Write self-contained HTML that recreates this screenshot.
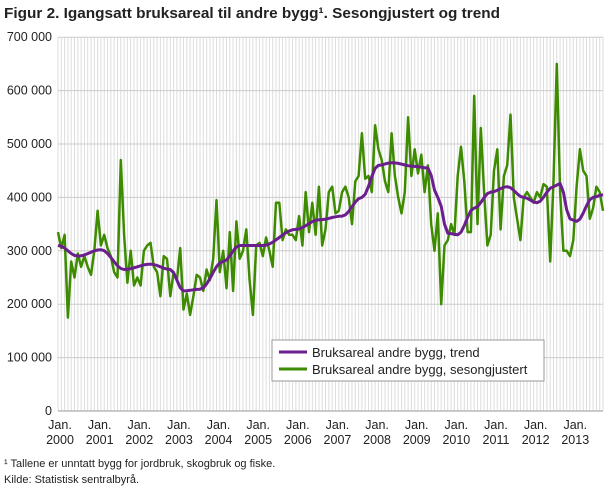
<!DOCTYPE html>
<html><head><meta charset="utf-8"><style>
body{margin:0;background:#fff;font-family:"Liberation Sans","DejaVu Sans",sans-serif;}
</style></head><body>
<svg id="s" width="610" height="488" xmlns="http://www.w3.org/2000/svg" font-family="Liberation Sans, DejaVu Sans, sans-serif">
<text x="4" y="18" font-size="15" font-weight="bold" fill="#222" textLength="496" lengthAdjust="spacingAndGlyphs">Figur 2. Igangsatt bruksareal til andre bygg¹. Sesongjustert og trend</text>
<g id="grid"></g>
<g id="yl" font-size="12.5" fill="#222" text-anchor="end"></g>
<g id="xl" font-size="12.5" fill="#222" text-anchor="middle"></g>
<polyline id="sea" fill="none" stroke="#3d8b00" stroke-width="2.5" stroke-linejoin="round"/>
<polyline id="tr" fill="none" stroke="#6b1e8e" stroke-width="3" stroke-linejoin="round"/>
<rect x="272" y="340" width="272" height="41" fill="#fff" stroke="#999"/>
<line x1="279" y1="352" x2="307" y2="352" stroke="#6b1e8e" stroke-width="3"/>
<line x1="279" y1="369" x2="307" y2="369" stroke="#3d8b00" stroke-width="3"/>
<text x="312" y="357" font-size="13" fill="#222">Bruksareal andre bygg, trend</text>
<text x="312" y="374" font-size="13" fill="#222">Bruksareal andre bygg, sesongjustert</text>
<text x="4" y="467" font-size="11" fill="#222">¹ Tallene er unntatt bygg for jordbruk, skogbruk og fiske.</text>
<text x="4" y="483" font-size="11" fill="#222">Kilde: Statistisk sentralbyrå.</text>
</svg>
<script>
var X0=58,X1=603,Y0=411,H=53.4,N=166,st=(X1-X0)/(N-1);
function y(v){return Y0-v/100*H;}
var g='';
for(var i=0;i<N;i++){var x=X0+i*st;g+='<line x1="'+x+'" y1="37" x2="'+x+'" y2="411" stroke="#ddd" stroke-width="1"/>';}
for(var k=0;k<=7;k++){g+='<line x1="58" y1="'+y(k*100)+'" x2="603" y2="'+y(k*100)+'" stroke="#ccc"/>';}
g+='<line x1="58" y1="411" x2="603" y2="411" stroke="#999"/>';
document.getElementById('grid').innerHTML=g;
var yl='';for(var k=0;k<=7;k++){yl+='<text x="52" y="'+(y(k*100)+4)+'">'+(k?k+'00 000':'0')+'</text>';}
document.getElementById('yl').innerHTML=yl;
var xl='';for(var yr=0;yr<=13;yr++){var x=X0+yr*12*st+2;xl+='<text x="'+x+'" y="429">Jan.</text><text x="'+x+'" y="444">'+(2000+yr)+'</text>';}
document.getElementById('xl').innerHTML=xl;
var s=[335,305,330,175,280,250,295,270,290,270,255,300,
375,310,330,305,290,260,250,470,330,240,300,235,
250,235,300,310,315,270,260,215,290,285,215,260,
245,305,190,220,180,215,255,250,225,265,245,285,
395,260,300,230,335,225,355,285,300,340,245,180,
310,315,290,325,300,270,390,390,320,340,330,330,
320,365,310,410,335,390,330,420,310,340,410,420,
370,375,410,420,400,350,430,440,520,435,440,410,
535,490,470,430,410,520,440,400,370,410,550,440,
490,445,480,410,460,350,300,370,200,310,320,350,
330,440,495,430,335,335,590,350,530,410,310,330,
450,490,340,440,460,555,400,360,320,400,410,400,
390,410,400,425,420,280,430,650,410,300,300,290,
320,420,490,450,440,360,380,420,410,375];
var t=[[0,310],[6,290],[13,302],[20,265],[28,275],[34,265],[38,225],[43,228],[50,280],[55,310],[62,310],[72,340],[79,358],[86,365],[92,400],[97,460],[101,465],[108,458],[112,455],[115,400],[118,333],[121,330],[126,380],[131,410],[136,420],[141,400],[145,390],[150,420],[152,426],[155,360],[157,355],[162,400],[165,405]];
var p=[];for(var i=0;i<s.length;i++)p.push((X0+i*st).toFixed(1)+','+y(s[i]).toFixed(1));
document.getElementById('sea').setAttribute('points',p.join(' '));
var q=[];for(var i=0;i<N;i++){for(var j=0;j<t.length-1;j++){if(i>=t[j][0]&&i<=t[j+1][0]){var f=(i-t[j][0])/(t[j+1][0]-t[j][0]);f=(1-Math.cos(f*Math.PI))/2;var v=t[j][1]+(t[j+1][1]-t[j][1])*f;q.push((X0+i*st).toFixed(1)+','+y(v).toFixed(1));break;}}}
document.getElementById('tr').setAttribute('points',q.join(' '));
</script>
</body></html>
